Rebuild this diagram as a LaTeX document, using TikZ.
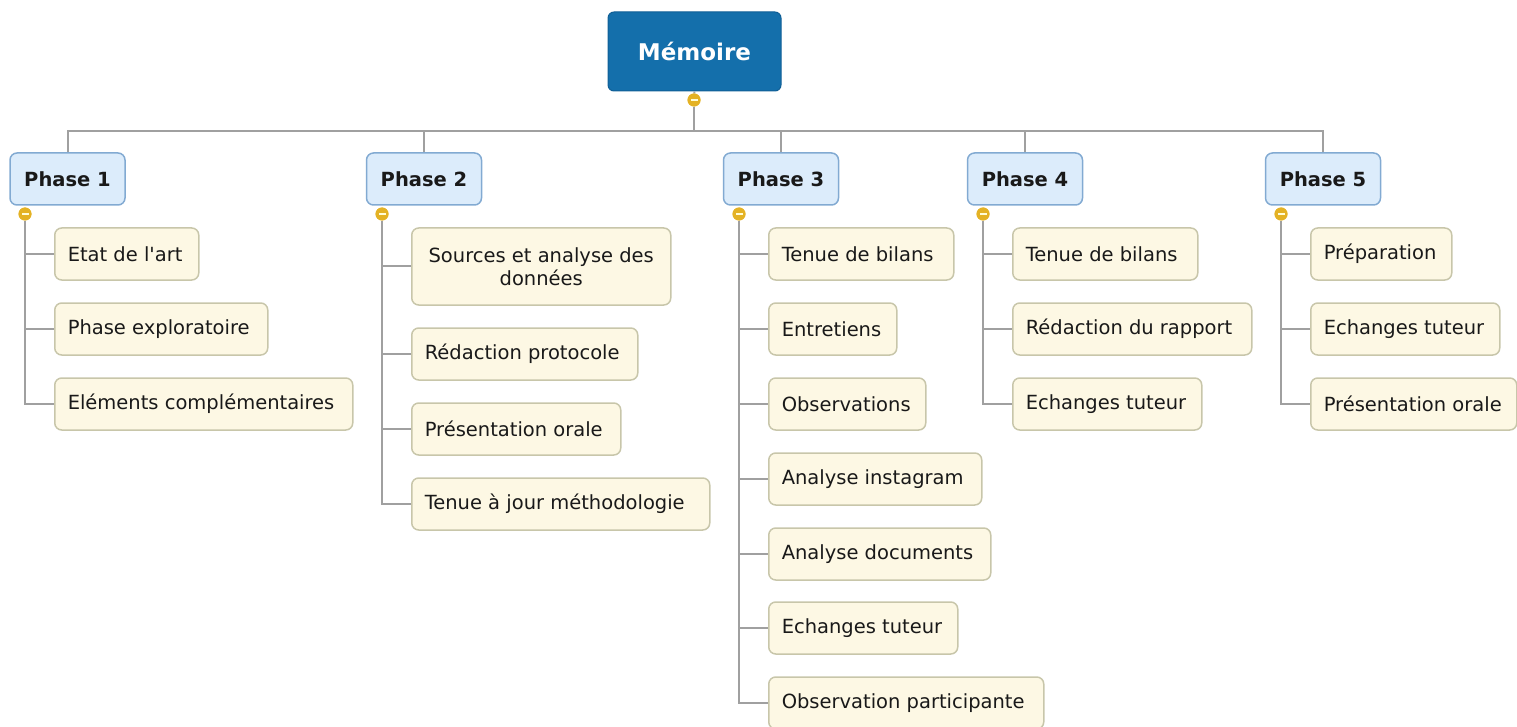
\documentclass[tikz,border=0pt]{standalone}
\usepackage{fontspec}
\setmainfont{DejaVu Sans}
\usetikzlibrary{calc}
\definecolor{rootblue}{RGB}{20,111,171}
\definecolor{rootedge}{RGB}{16,95,150}
\definecolor{phasefill}{RGB}{220,236,251}
\definecolor{phaseedge}{RGB}{130,170,210}
\definecolor{leaffill}{RGB}{253,248,228}
\definecolor{leafedge}{RGB}{200,198,170}
\definecolor{linegray}{RGB}{160,160,160}
\definecolor{knobyellow}{RGB}{228,178,36}
\definecolor{txt}{RGB}{25,25,25}
\newcommand\lf[2]{\makebox[\dimexpr#1pt-26pt\relax][l]{#2}}
\tikzset{
  root/.style={fill=rootblue, draw=rootedge, line width=1pt, rounded corners=6pt,
    minimum width=173pt, minimum height=79pt, inner sep=0pt, text=white,
    font=\bfseries\fontsize{23}{27}\selectfont},
  phase/.style={fill=phasefill, draw=phaseedge, line width=1.5pt, rounded corners=7pt,
    minimum width=115pt, minimum height=52pt, inner sep=0pt, text=txt,
    font=\bfseries\fontsize{19.5}{23}\selectfont},
  leaf/.style={fill=leaffill, draw=leafedge, line width=1.5pt, rounded corners=7pt,
    minimum height=52pt, inner xsep=13pt, inner ysep=0pt, anchor=west, text=txt,
    font=\fontsize{19.5}{23.5}\selectfont},
  knob/.style={circle, fill=knobyellow, minimum size=13pt, inner sep=0pt,
    path picture={\fill[white!85!yellow] ($(path picture bounding box.center)+(-3.5pt,-1pt)$) rectangle ++(7pt,2pt);}},
  link/.style={draw=linegray, line width=2pt},
}
\begin{document}
\begin{tikzpicture}[x=1pt,y=-1pt]
\useasboundingbox (0,0) rectangle (1517,727);
% root
\node[root] (m) at (694.5,51.5) {Mémoire};
\node[knob] (mk) at (694,100) {};
% phases
\node[phase] (p1) at (67.5,179) {Phase 1};
\node[phase] (p2) at (424,179) {Phase 2};
\node[phase] (p3) at (781,179) {Phase 3};
\node[phase] (p4) at (1025,179) {Phase 4};
\node[phase] (p5) at (1323,179) {Phase 5};
\foreach \i/\x in {1/25,2/382,3/739,4/983,5/1281}{
  \node[knob] (k\i) at (\x,214) {};
}
% Phase 1 children
\node[leaf] (a1) at (54,254) {\lf{144}{Etat de l\textquotesingle art}};
\node[leaf] (a2) at (54,329) {\lf{213}{Phase exploratoire}};
\node[leaf] (a3) at (54,404) {\lf{298}{Eléments complémentaires}};
% Phase 2 children
\node[leaf, align=center, minimum height=77pt, minimum width=259pt] (b1) at (411,266.5) {Sources et analyse des\\données};
\node[leaf] (b2) at (411,354) {\lf{226}{Rédaction protocole}};
\node[leaf] (b3) at (411,429) {\lf{209}{Présentation orale}};
\node[leaf] (b4) at (411,504) {\lf{298}{Tenue à jour méthodologie}};
% Phase 3 children
\node[leaf] (c1) at (768,254) {\lf{185}{Tenue de bilans}};
\node[leaf] (c2) at (768,329) {\lf{128}{Entretiens}};
\node[leaf] (c3) at (768,404) {\lf{157}{Observations}};
\node[leaf] (c4) at (768,479) {\lf{213}{Analyse instagram}};
\node[leaf] (c5) at (768,554) {\lf{222}{Analyse documents}};
\node[leaf] (c6) at (768,628) {\lf{189}{Echanges tuteur}};
\node[leaf] (c7) at (768,703) {\lf{275}{Observation participante}};
% Phase 4 children
\node[leaf] (d1) at (1012,254) {\lf{185}{Tenue de bilans}};
\node[leaf] (d2) at (1012,329) {\lf{239}{Rédaction du rapport}};
\node[leaf] (d3) at (1012,404) {\lf{189}{Echanges tuteur}};
% Phase 5 children
\node[leaf] (e1) at (1310,254) {\lf{141}{Préparation}};
\node[leaf] (e2) at (1310,329) {\lf{189}{Echanges tuteur}};
\node[leaf] (e3) at (1310,404) {\lf{206}{Présentation orale}};
% connectors root -> phases
\draw[link] (m.south) -- (mk);
\foreach \p in {p1,p2,p3,p4,p5}{
  \draw[link] (mk.south) -- ++(0,24) -| (\p.north);
}
% phase -> children
\foreach \k/\c in {k1/a1,k1/a2,k1/a3,k2/b1,k2/b2,k2/b3,k2/b4,
  k3/c1,k3/c2,k3/c3,k3/c4,k3/c5,k3/c6,k3/c7,
  k4/d1,k4/d2,k4/d3,k5/e1,k5/e2,k5/e3}{
  \draw[link] (\k.south) |- (\c.west);
}
% redraw knobs on top
\node[knob] at (mk) {};
\foreach \i in {1,...,5}{ \node[knob] at (k\i) {}; }
\end{tikzpicture}
\end{document}
